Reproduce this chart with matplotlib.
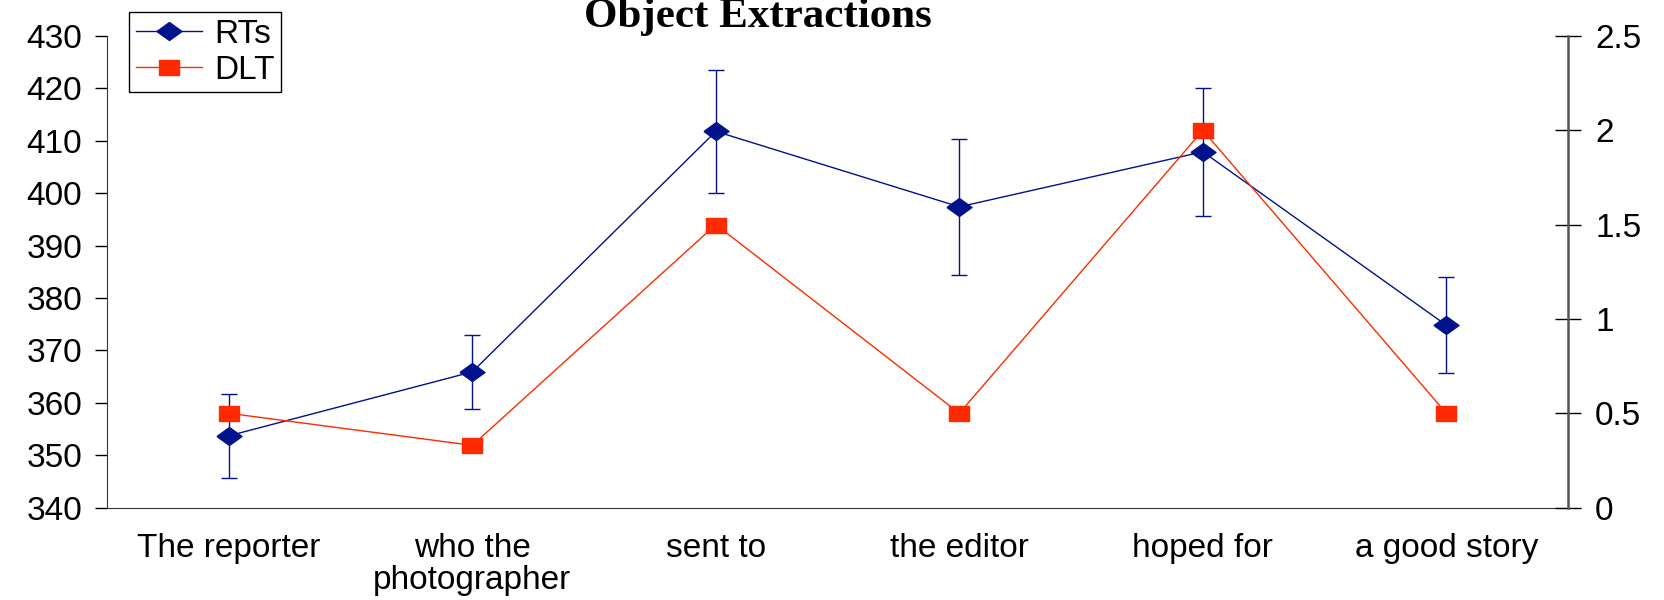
import matplotlib.pyplot as plt

categories = ["The reporter", "who the\nphotographer", "sent to",
              "the editor", "hoped for", "a good story"]
rt_means = [353.7, 365.9, 411.8, 397.4, 407.9, 374.8]
rt_errors = [8.0, 7.0, 11.8, 13.0, 12.2, 9.2]
dlt_values = [0.5, 0.33, 1.5, 0.5, 2.0, 0.5]

rt_ticks = [340, 350, 360, 370, 380, 390, 400, 410, 420, 430]
dlt_ticks = [0, 0.5, 1, 1.5, 2, 2.5]
dlt_tick_labels = ["0", "0.5", "1", "1.5", "2", "2.5"]

navy = "#00128c"
red = "#ff2a00"

# the original is stretched sideways, so the markers are too
diamond = [(-1, 0), (0, 0.72), (1, 0), (0, -0.72), (-1, 0)]
square = [(-1, -0.75), (1, -0.75), (1, 0.75), (-1, 0.75), (-1, -0.75)]

plt.rcParams['font.family'] = ['Liberation Sans', 'DejaVu Sans']

fig = plt.figure(figsize=(16.65, 6), dpi=100)
ax = fig.add_axes([0.0643, 0.154, 0.8775, 0.786])

x = list(range(len(categories)))
ax.errorbar(x, rt_means, yerr=rt_errors, fmt='none', ecolor=navy,
            elinewidth=1, capsize=6, capthick=1)
rt_line, = ax.plot(x, rt_means, color=navy, lw=1, marker=diamond,
                   ms=18, label="RTs")

ax.set_xlim(-0.5, 5.5)
ax.set_ylim(340, 430)
ax.set_yticks(rt_ticks)
ax.set_xticks(x)
ax.set_xticklabels(categories, linespacing=1.05)
ax.tick_params(axis='x', length=0, pad=18, labelsize=24)
ax.tick_params(axis='y', direction='out', length=9, width=1, pad=9,
               labelsize=24)
for side in ['top', 'right']:
    ax.spines[side].set_visible(False)
ax.spines['left'].set_color('#333333')
ax.spines['bottom'].set_color('#333333')

ax2 = ax.twinx()
dlt_line, = ax2.plot(x, dlt_values, color=red, lw=1, marker=square,
                     ms=14.4, label="DLT")
ax2.set_ylim(0, 2.5)
ax2.set_yticks(dlt_ticks)
ax2.set_yticklabels(dlt_tick_labels)
ax2.tick_params(axis='y', direction='inout', length=19, width=1, pad=10,
                labelsize=24)
for side in ['top', 'left', 'bottom']:
    ax2.spines[side].set_visible(False)
ax2.spines['right'].set_color('#555555')
ax2.spines['right'].set_linewidth(1.8)

leg = ax2.legend(handles=[rt_line, dlt_line], loc='upper left',
                 bbox_to_anchor=(0.015, 1.051), borderaxespad=0,
                 fontsize=24, frameon=True, fancybox=False, framealpha=1,
                 edgecolor='black', handlelength=2.0, handletextpad=0.35,
                 labelspacing=0.15, borderpad=0.2)
leg.get_frame().set_linewidth(1)

fig.text(0.455, 0.955, "Object Extractions", ha='center', va='baseline',
         fontsize=31, fontweight='bold', family=['Liberation Serif'])

fig.savefig("out.png", dpi=100)
